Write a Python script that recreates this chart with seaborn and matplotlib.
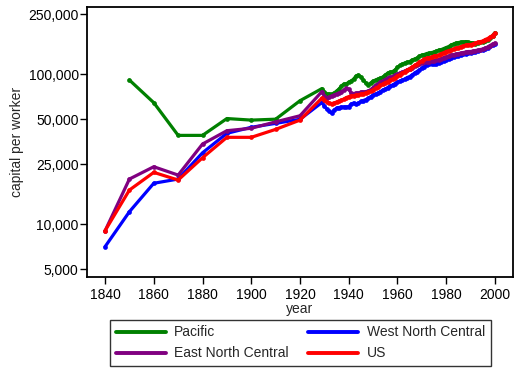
import numpy as np
import pandas as pd
import matplotlib
matplotlib.use("Agg")
import matplotlib.pyplot as plt
import matplotlib.ticker as mticker
from matplotlib.lines import Line2D
import seaborn as sns

# ---------------- data ----------------
decade_years = [1840, 1850, 1860, 1870, 1880, 1890, 1900, 1910, 1920]
annual_years = list(range(1929, 2001))

pacific_decadal = [np.nan, 91200, 64400, 39000, 39000, 50500, 49300, 50000, 66400]
wnc_decadal = [7060, 12080, 18700, 19950, 29850, 40250, 44150, 46900, 49900]
enc_decadal = [9000, 19950, 24100, 21200, 34150, 41900, 43500, 48000, 52700]
us_decadal = [9020, 16850, 22100, 19650, 27660, 37850, 37850, 42760, 49300]

pacific_annual = [
    80000, 75900, 73600, 73600, 73600, 74700, 77000, 79400, 83200, 85800,
    85800, 88400, 89800, 92600, 97000, 98500, 95500, 91200, 87100, 84500,
    87100, 89800, 91200, 92600, 94000, 95500, 98500, 101500, 103100, 103900,
    106300, 111300, 114000, 116600, 118400, 120200, 121100, 124000, 125900, 127800,
    131800, 133800, 134900, 137000, 138000, 139100, 140200, 142400, 144500, 145600,
    147900, 150200, 152500, 156100, 158500, 160900, 162100, 163400, 163400, 164600,
    163400, 162100, 160900, 159700, 160900, 163400, 164600, 165900, 168500, 173800,
    180600, 189100]
us_annual = [
    69200, 67100, 65100, 64100, 63600, 64100, 65100, 66100, 67100, 68100,
    69700, 70700, 71300, 71800, 72400, 72400, 73600, 74100, 74700, 75900,
    77000, 78200, 80700, 81900, 84100, 85800, 87800, 89100, 91200, 92600,
    94800, 97000, 99200, 101500, 103900, 106300, 108700, 111300, 114000, 116600,
    120200, 123000, 125900, 127800, 128800, 129800, 131800, 132800, 133800, 137000,
    139100, 141300, 143400, 144500, 146800, 149100, 150200, 152500, 153700, 156100,
    157300, 157300, 158500, 160900, 163400, 164600, 165900, 169800, 172500, 176500,
    180600, 187700]
enc_annual = [
    76400, 71300, 69200, 70200, 71300, 72400, 73600, 74700, 75900, 78200,
    80100, 79400, 74700, 74100, 74700, 74700, 75900, 75900, 76400, 77000,
    78800, 81300, 84100, 85800, 88400, 89800, 91900, 94000, 95500, 96200,
    98500, 100000, 101500, 103100, 104700, 106300, 108700, 110400, 113100, 114800,
    117500, 119300, 120200, 121100, 121100, 122100, 123000, 124000, 124900, 126800,
    128800, 129800, 131800, 133800, 134900, 135900, 137000, 138000, 139100, 140200,
    141300, 141300, 142400, 143400, 144500, 145600, 146800, 149100, 151400, 154900,
    158500, 160900]
wnc_annual = [
    64600, 61200, 58400, 56600, 54900, 57500, 59300, 59800, 60300, 60300,
    60300, 60700, 63100, 64100, 63100, 64100, 65600, 66600, 67600, 68700,
    70700, 72400, 73600, 74700, 76400, 78200, 79400, 81300, 83200, 84500,
    86400, 88400, 89800, 91200, 92600, 94800, 96200, 98500, 101500, 103900,
    106300, 109600, 112200, 114800, 116600, 117500, 117500, 117500, 118400, 120200,
    123000, 124000, 125900, 127800, 129800, 131800, 132800, 134900, 135900, 137000,
    138000, 139100, 140200, 141300, 142400, 144500, 145600, 147900, 150200, 153700,
    156100, 158500]

series_names = ["Pacific", "West North Central", "East North Central", "US"]
series_colors = ["#008000", "#0000ff", "#800080", "#ff0000"]
legend_order = ["Pacific", "East North Central", "West North Central", "US"]
y_ticks = [5000, 10000, 25000, 50000, 100000, 250000]
x_ticks = [1840, 1860, 1880, 1900, 1920, 1940, 1960, 1980, 2000]

# ---------------- build long table ----------------
years_all = decade_years + annual_years
vals = {
    "Pacific": pacific_decadal + pacific_annual,
    "West North Central": wnc_decadal + wnc_annual,
    "East North Central": enc_decadal + enc_annual,
    "US": us_decadal + us_annual,
}
rows = []
for name in series_names:
    for yr, v in zip(years_all, vals[name]):
        if not (isinstance(v, float) and np.isnan(v)):
            rows.append({"year": yr, "capital": v, "region": name})
df = pd.DataFrame(rows)

# ---------------- plot ----------------
sns.set_style("white")
plt.rcParams["font.family"] = ["Liberation Sans", "DejaVu Sans"]

fig = plt.figure(figsize=(5.14, 3.69), dpi=100)
ax = fig.add_axes([87 / 514, 1 - 277 / 369, 426 / 514, 270 / 369])

palette = dict(zip(series_names, series_colors))
sns.lineplot(data=df, x="year", y="capital", hue="region", hue_order=series_names,
             palette=palette, estimator=None, sort=True, marker="o", markersize=3.4,
             markeredgewidth=0, linewidth=2.3, ax=ax, legend=False)

ax.set_yscale("log")
ax.set_ylim(4436, 279800)
ax.set_xlim(1832.6, 2007.4)
ax.yaxis.set_major_locator(mticker.FixedLocator(y_ticks))
ax.yaxis.set_minor_locator(mticker.NullLocator())
ax.yaxis.set_major_formatter(mticker.FuncFormatter(lambda v, p: f"{int(round(v)):,}"))
ax.set_xticks(x_ticks)

for s in ax.spines.values():
    s.set_visible(True)
    s.set_color("black")
    s.set_linewidth(1.3)

ax.tick_params(axis="both", which="major", direction="out", length=5, width=1,
               color="black", labelsize=10, labelcolor="black", left=True, bottom=True)
ax.tick_params(axis="y", pad=1)
ax.tick_params(axis="x", pad=3)

ax.set_xlabel("year", fontsize=10, labelpad=0)
ax.set_ylabel("capital per worker", fontsize=10, labelpad=3)

handles = [Line2D([0], [0], color=palette[n], lw=2.8) for n in legend_order]
leg = fig.legend(handles, legend_order, loc="lower center", ncol=2,
                 bbox_to_anchor=(300.5 / 514, 3 / 369), borderaxespad=0,
                 frameon=True, fancybox=False,
                 edgecolor="black", fontsize=10, handlelength=3.6, columnspacing=1.4,
                 borderpad=0.4, labelspacing=0.5, handletextpad=0.6)
leg.get_frame().set_linewidth(1.0)

fig.savefig("out.png", dpi=100)
